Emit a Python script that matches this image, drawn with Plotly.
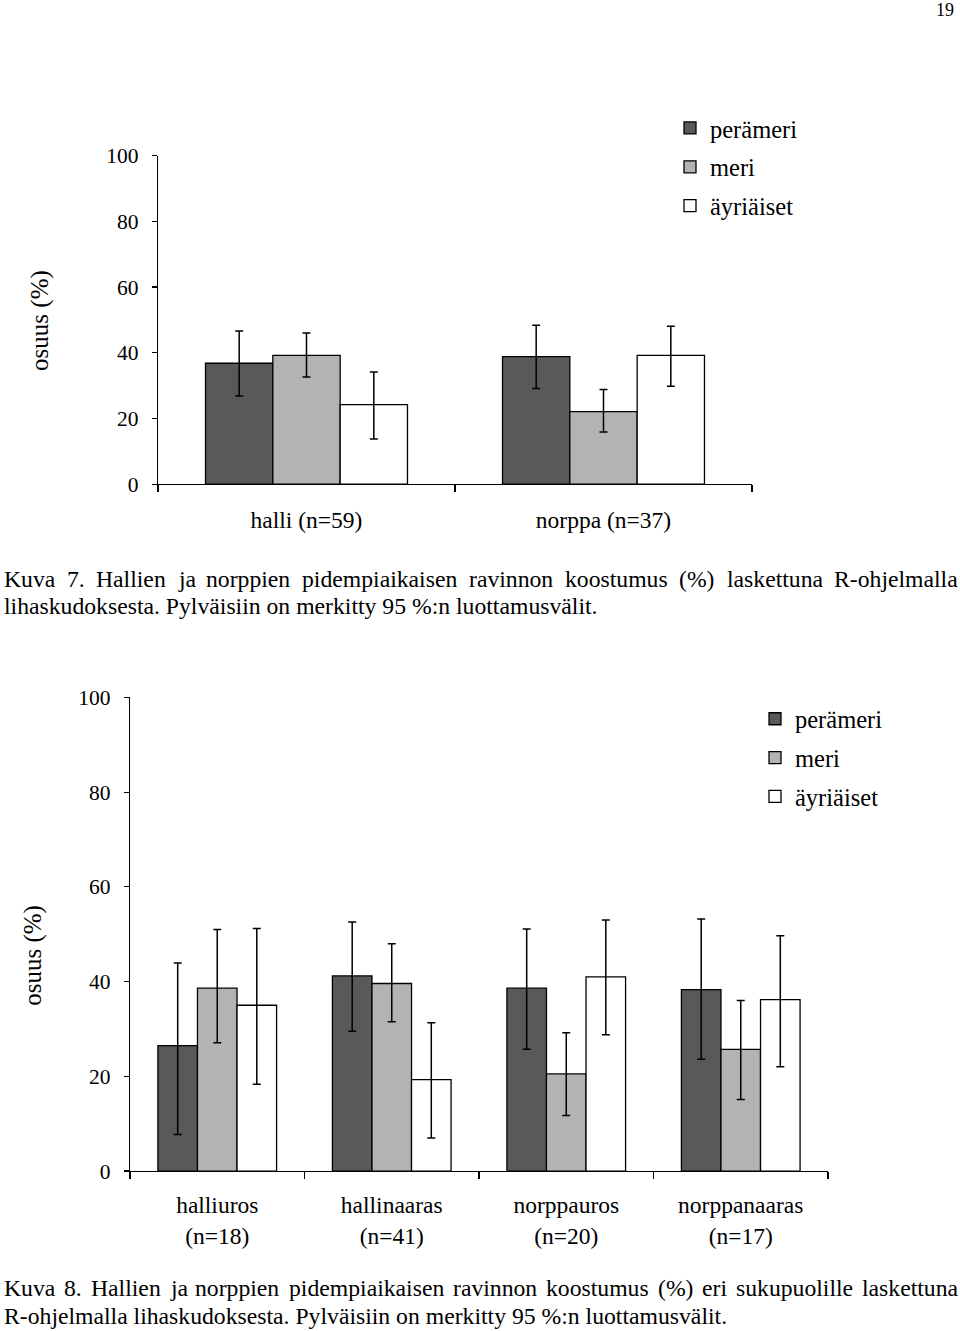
import numpy as np
import plotly.graph_objects as go

W, H_IMG = 960, 1331

# ---------------- data ----------------
series = ["perämeri", "meri", "äyriäiset"]
colors = ["#595959", "#b3b3b3", "#ffffff"]

# Figure 7
cats7 = ["halli (n=59)", "norppa (n=37)"]
val7 = {
    "perämeri": [36.8, 38.8],
    "meri": [39.2, 22.1],
    "äyriäiset": [24.2, 39.2],
}
up7 = {
    "perämeri": [46.6, 48.4],
    "meri": [46.0, 28.8],
    "äyriäiset": [34.1, 48.1],
}
lo7 = {
    "perämeri": [26.8, 29.1],
    "meri": [32.6, 15.9],
    "äyriäiset": [13.7, 29.8],
}

# Figure 8
cats8 = ["halliuros<br>(n=18)", "hallinaaras<br>(n=41)", "norppauros<br>(n=20)", "norppanaaras<br>(n=17)"]
val8 = {
    "perämeri": [26.5, 41.2, 38.6, 38.3],
    "meri": [38.6, 39.6, 20.5, 25.7],
    "äyriäiset": [35.0, 19.3, 41.0, 36.2],
}
up8 = {
    "perämeri": [43.9, 52.6, 51.1, 53.2],
    "meri": [51.0, 48.0, 29.2, 36.0],
    "äyriäiset": [51.2, 31.3, 53.0, 49.7],
}
lo8 = {
    "perämeri": [7.7, 29.5, 25.7, 23.6],
    "meri": [27.1, 31.5, 11.7, 15.1],
    "äyriäiset": [18.3, 7.0, 28.8, 22.0],
}
yticks = [0, 20, 40, 60, 80, 100]

cap7_line1 = "Kuva 7. Hallien ja norppien pidempiaikaisen ravinnon koostumus (%) laskettuna R-ohjelmalla"
cap7_line2 = "lihaskudoksesta. Pylväisiin on merkitty 95 %:n luottamusvälit."
cap8_line1 = "Kuva 8. Hallien ja norppien pidempiaikaisen ravinnon koostumus (%) eri sukupuolille laskettuna"
cap8_line2 = "R-ohjelmalla lihaskudoksesta. Pylväisiin on merkitty 95 %:n luottamusvälit."

FONT = "Liberation Serif"

# Times / Liberation Serif advance widths (em) used to justify caption lines
TW = {
    "K": .722, "H": .722, "R": .667, "P": .556,
    "a": .444, "ä": .444, "d": .5, "e": .444, "h": .5, "i": .278, "j": .278, "k": .5,
    "l": .278, "m": .778, "n": .5, "o": .5, "p": .5, "r": .333, "s": .389, "t": .278,
    "u": .5, "v": .5, "y": .5, "0": .5, "5": .5, "7": .5, "8": .5, "9": .5,
    ".": .25, "-": .333, "(": .333, ")": .333, "%": .833, ":": .278,
}

# page-to-image vertical calibration observed for this renderer
SY, OY = 0.981, 12.3
SHIFT = 13           # the graph div is placed this many px above the page top
H = 1358             # figure height


def text_w(word, size):
    return sum(TW.get(c, .5) for c in word) * size


def T(y_img):
    """figure y (px) that lands at image row y_img"""
    return (y_img - OY) / SY + SHIFT


def px(x):
    return x / W


def py(y_img):
    return 1 - T(y_img) / H


fig = go.Figure()

for i, s in enumerate(series):
    v = np.array(val7[s])
    fig.add_trace(go.Bar(
        x=cats7, y=v, name=s, xaxis="x", yaxis="y",
        marker=dict(color=colors[i], line=dict(color="black", width=1.3)),
        error_y=dict(type="data", symmetric=False,
                     array=np.array(up7[s]) - v, arrayminus=v - np.array(lo7[s]),
                     color="black", thickness=1.5, width=4),
        legend="legend", legendgroup="a" + s,
    ))

for i, s in enumerate(series):
    v = np.array(val8[s])
    fig.add_trace(go.Bar(
        x=cats8, y=v, name=s, xaxis="x2", yaxis="y2",
        marker=dict(color=colors[i], line=dict(color="black", width=1.3)),
        error_y=dict(type="data", symmetric=False,
                     array=np.array(up8[s]) - v, arrayminus=v - np.array(lo8[s]),
                     color="black", thickness=1.5, width=4),
        legend="legend2", legendgroup="b" + s,
    ))

axis_common = dict(showline=True, linecolor="black", linewidth=1.2, showgrid=False,
                   zeroline=False, ticks="outside", tickcolor="black")

yaxis_common = dict(axis_common, range=[0, 100], tickvals=yticks, ticklen=5, tickwidth=1.2,
                    ticklabelstandoff=9,
                    tickfont=dict(family=FONT, size=21.5, color="black"))

xfont = dict(family=FONT, size=23.5, color="black")

fig.update_layout(
    width=W, height=H,
    margin=dict(l=0, r=0, t=0, b=0),
    paper_bgcolor="white", plot_bgcolor="white",
    barmode="group", bargap=0.32, bargroupgap=0,
    font=dict(family=FONT, color="black"),
    xaxis=dict(axis_common, domain=[px(158), px(752)], anchor="y", tickson="boundaries",
               ticklen=7, tickwidth=1.2, ticklabelstandoff=14, tickfont=xfont),
    yaxis=dict(yaxis_common, domain=[py(485), py(157)], anchor="x"),
    xaxis2=dict(axis_common, domain=[px(130), px(828)], anchor="y2", tickson="boundaries",
                ticklen=7, tickwidth=1.2, ticklabelstandoff=13, tickfont=xfont),
    yaxis2=dict(yaxis_common, domain=[py(1171), py(698)], anchor="x2"),
    legend=dict(x=px(670), y=1 - (T(130) - 23.5) / H, xanchor="left", yanchor="top",
                font=dict(family=FONT, size=24.5, color="black"),
                bgcolor="rgba(0,0,0,0)", traceorder="grouped", tracegroupgap=4),
    legend2=dict(x=px(755), y=1 - (T(720) - 23.5) / H, xanchor="left", yanchor="top",
                 font=dict(family=FONT, size=24.5, color="black"),
                 bgcolor="rgba(0,0,0,0)", traceorder="grouped", tracegroupgap=4),
    showlegend=True,
)

ann = []
# page number
ann.append(dict(text="19", x=px(945), y=py(12), xref="paper", yref="paper",
                xanchor="center", yanchor="middle",
                showarrow=False, font=dict(family=FONT, size=18, color="black")))
# y axis titles
ann.append(dict(text="osuus (%)", x=px(40), y=py(322), xref="paper", yref="paper",
                xanchor="center", yanchor="middle",
                textangle=-90, showarrow=False, font=dict(family=FONT, size=25, color="black")))
ann.append(dict(text="osuus (%)", x=px(33), y=py(956), xref="paper", yref="paper",
                xanchor="center", yanchor="middle",
                textangle=-90, showarrow=False, font=dict(family=FONT, size=25, color="black")))

CAP = 23.7
capfont = dict(family=FONT, size=CAP, color="black")
LEFT, RIGHT = 3, 957


def justified(line, ycen):
    words = line.split(" ")
    widths = [text_w(w, CAP) for w in words]
    gap = (RIGHT - LEFT - sum(widths)) / (len(words) - 1)
    x = LEFT
    out = []
    for w, wd in zip(words, widths):
        out.append(dict(text=w, x=px(x), y=py(ycen), xref="paper", yref="paper",
                        xanchor="left", yanchor="middle", showarrow=False,
                        font=capfont, borderpad=0))
        x += wd + gap
    return out


def plain(line, ycen):
    return [dict(text=line, x=px(LEFT), y=py(ycen), xref="paper", yref="paper",
                 xanchor="left", yanchor="middle", showarrow=False, font=capfont,
                 borderpad=0)]


ann += justified(cap7_line1, 580)
ann += plain(cap7_line2, 607)
ann += justified(cap8_line1, 1288)
ann += plain(cap8_line2, 1316)

fig.update_layout(annotations=ann)

fig.write_html(
    "out.html",
    config={"displayModeBar": False, "staticPlot": True},
    post_script=(
        "document.body.style.margin='0';"
        "var gd=document.getElementById('{plot_id}');"
        "gd.style.position='fixed';gd.style.left='0px';gd.style.top='-%dpx';" % SHIFT
    ),
)
